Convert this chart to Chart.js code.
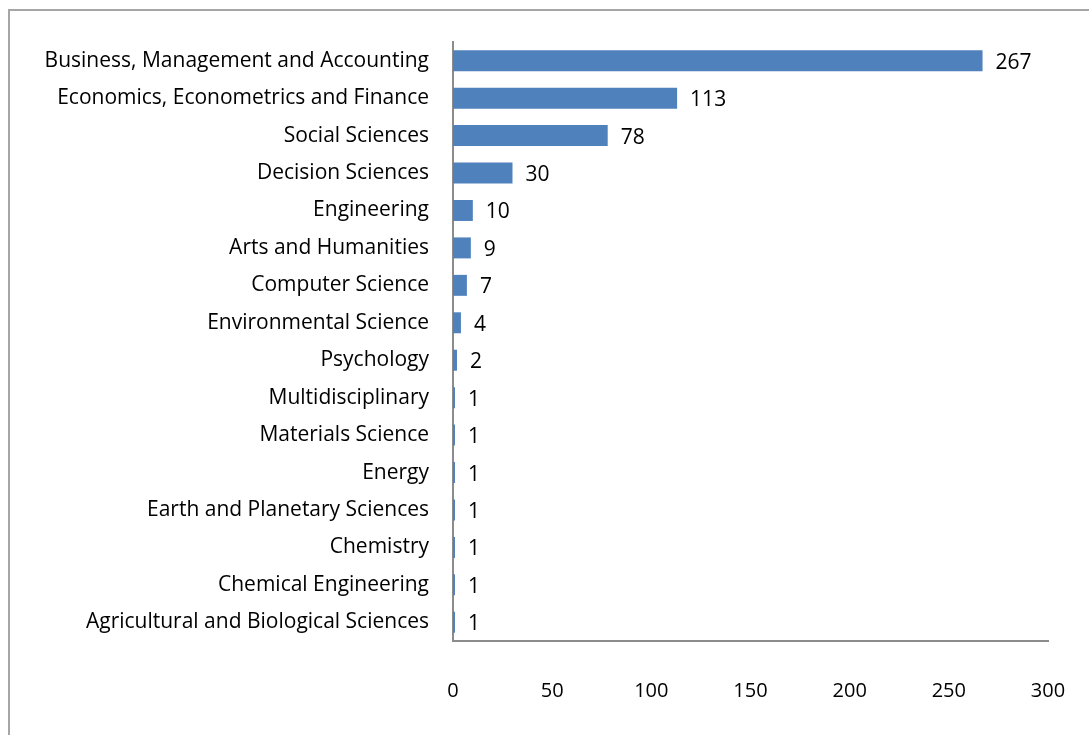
<!DOCTYPE html>
<html>
<head>
<meta charset="utf-8">
<script src="https://cdn.jsdelivr.net/npm/chart.js@4.4.0/dist/chart.umd.min.js"></script>
<style>
  body { margin: 0; background: #ffffff; overflow: hidden; }
  #wrap { position: relative; width: 1089px; height: 735px; }
  #frame {
    position: absolute; left: 8px; top: 9px; width: 1100px; height: 740px;
    border: 2px solid #a6a6a6; pointer-events: none;
  }
</style>
</head>
<body>
<div id="wrap">
  <canvas id="myChart" width="1089" height="735"></canvas>
  <div id="frame"></div>
</div>
<script>
let subjectAreas = [
    "Business, Management and Accounting",
    "Economics, Econometrics and Finance",
    "Social Sciences",
    "Decision Sciences",
    "Engineering",
    "Arts and Humanities",
    "Computer Science",
    "Environmental Science",
    "Psychology",
    "Multidisciplinary",
    "Materials Science",
    "Energy",
    "Earth and Planetary Sciences",
    "Chemistry",
    "Chemical Engineering",
    "Agricultural and Biological Sciences"
];
let documentCounts = [267, 113, 78, 30, 10, 9, 7, 4, 2, 1, 1, 1, 1, 1, 1, 1];
let xTickValues = [0, 50, 100, 150, 200, 250, 300];

const labelFont = "'Open Sans', 'Noto Sans', sans-serif";

/**
 * Write the count just past the end of every bar
 */
const valueLabels = {
    id: "valueLabels",
    afterDatasetsDraw(chart) {
        const ctx = chart.ctx;
        const meta = chart.getDatasetMeta(0);
        ctx.save();
        ctx.font = "21px " + labelFont;
        ctx.fillStyle = "#000000";
        ctx.textAlign = "left";
        ctx.textBaseline = "middle";
        meta.data.forEach((bar, i) => {
            ctx.fillText(String(documentCounts[i]), bar.x + 13, bar.y + 2);
        });
        ctx.restore();
    }
};

new Chart("myChart", {
    type: "bar",
    data: {
        labels: subjectAreas,
        datasets: [{
            data: documentCounts,
            backgroundColor: "#4f81bd",
            borderWidth: 0,
            categoryPercentage: 1.0,
            barPercentage: 0.56
        }]
    },
    options: {
        indexAxis: "y",
        responsive: false,
        animation: false,
        layout: { padding: { left: 0, right: 41, top: 42, bottom: 0 } },
        plugins: {
            legend: { display: false },
            tooltip: { enabled: false }
        },
        scales: {
            x: {
                min: 0,
                max: 300,
                afterBuildTicks(scale) {
                    scale.ticks = xTickValues.map(v => ({ value: v }));
                },
                afterFit(scale) {
                    scale.height = 94;
                    scale.paddingLeft = 0;
                    scale.paddingRight = 0;
                },
                grid: { display: false },
                border: { display: true, color: "#8c8c8c", width: 2 },
                ticks: {
                    padding: 30,
                    color: "#000000",
                    font: { family: labelFont, size: 20 }
                }
            },
            y: {
                afterFit(scale) { scale.width = 453; },
                grid: { display: false },
                border: { display: true, color: "#8c8c8c", width: 2 },
                ticks: {
                    padding: 16,
                    color: "#000000",
                    autoSkip: false,
                    font: { family: labelFont, size: 21 }
                }
            }
        }
    },
    plugins: [valueLabels]
});
</script>
</body>
</html>
